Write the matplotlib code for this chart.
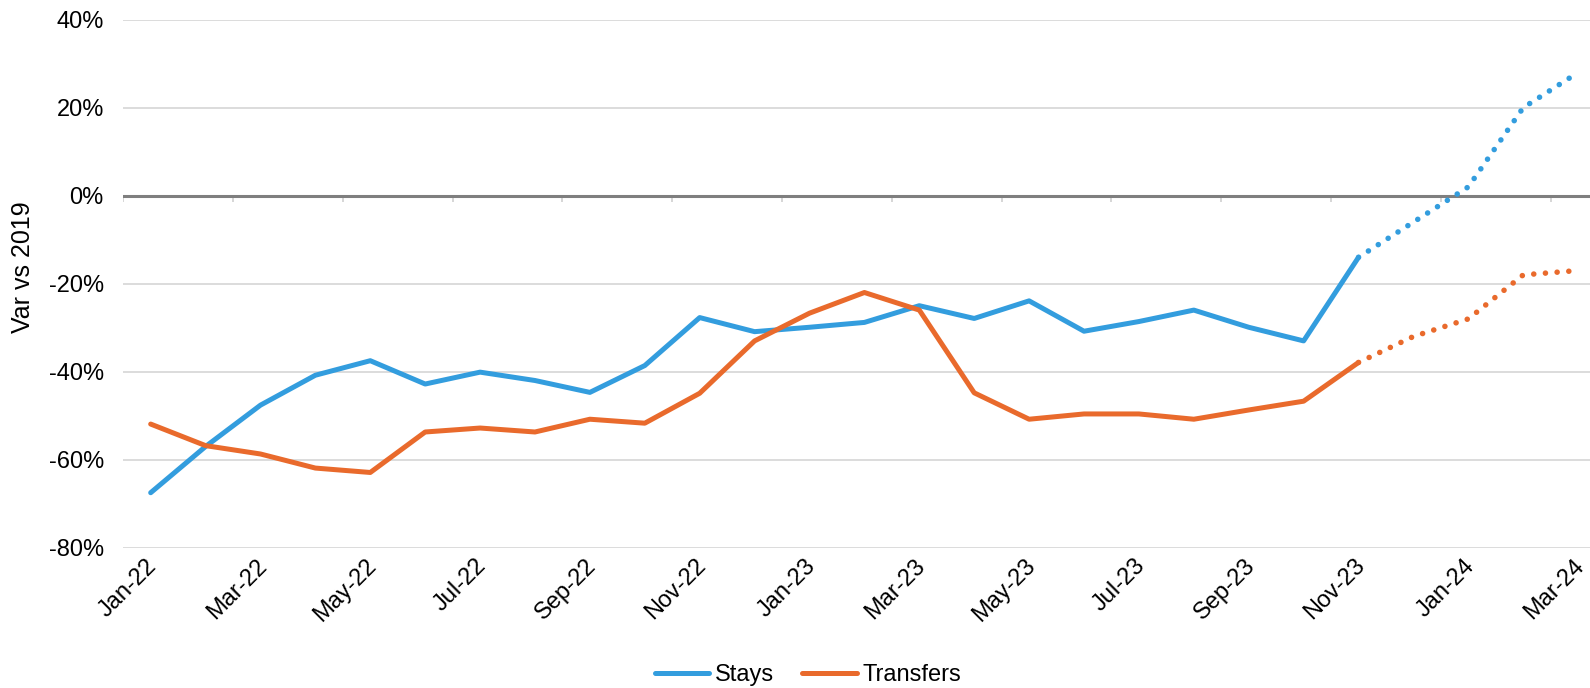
import matplotlib
matplotlib.use("Agg")
import matplotlib.pyplot as plt
import matplotlib.transforms as mtransforms
import numpy as np

# monthly variance vs 2019, in percent
months = ["Jan-22", "Feb-22", "Mar-22", "Apr-22", "May-22", "Jun-22", "Jul-22",
          "Aug-22", "Sep-22", "Oct-22", "Nov-22", "Dec-22", "Jan-23", "Feb-23",
          "Mar-23", "Apr-23", "May-23", "Jun-23", "Jul-23", "Aug-23", "Sep-23",
          "Oct-23", "Nov-23", "Dec-23", "Jan-24", "Feb-24", "Mar-24"]
stays = [-67.5, -57, -47.6, -40.8, -37.5, -42.8, -40.1, -42, -44.7, -38.6,
         -27.7, -30.9, -29.9, -28.8, -25, -27.9, -23.9, -30.8, -28.6, -26,
         -29.9, -33, -14, -6, 2, 20, 28]
transfers = [-51.9, -56.8, -58.7, -61.9, -62.9, -53.7, -52.8, -53.7, -50.8,
             -51.7, -44.9, -33, -26.7, -22, -26, -44.8, -50.8, -49.6, -49.6,
             -50.8, -48.7, -46.7, -37.9, -32, -28, -18, -17]
last_actual = "Nov-23"   # after this month the series are forecasts
y_ticks = [-80, -60, -40, -20, 0, 20, 40]

blue = "#339DDE"
orange = "#E96A2C"

plt.rcParams["font.family"] = ["Liberation Sans", "DejaVu Sans"]

fig = plt.figure(figsize=(15.9, 6.88), dpi=100)
ax = fig.add_axes([0.0775, 0.2039, 0.9323, 0.7675])

x = np.arange(len(months))
cut = months.index(last_actual)

for vals, col, name in [(stays, blue, "Stays"), (transfers, orange, "Transfers")]:
    v = np.array(vals)
    ax.plot(x[:cut + 1], v[:cut + 1], color=col, lw=3.6, label=name,
            solid_capstyle="round", solid_joinstyle="round", zorder=3)
    ax.plot(x[cut:], v[cut:], color=col, lw=4.0, linestyle=(0, (0.01, 2.1)),
            dash_capstyle="round", zorder=3)

ax.set_xlim(-0.5, len(months) - 0.5)
ax.set_ylim(-80, 40)

# grid + dark zero line
for yv in y_ticks:
    if yv != 0:
        ax.axhline(yv, color="#d9d9d9", lw=1.3, zorder=1)
ax.axhline(0, color="#7f7f7f", lw=2.2, zorder=2)
# little ticks hanging off the zero line, between every second month
ax.vlines(np.arange(-0.5, len(months), 2), -1.4, 0, color="#d0d0d0", lw=1.2, zorder=1)

for s in ax.spines.values():
    s.set_visible(False)

ax.set_yticks(y_ticks)
ax.set_yticklabels([f"{t}%" for t in y_ticks])
ax.tick_params(axis="y", length=0, pad=14, labelsize=17, labelcolor="#000000")

ax.set_xticks(x[::2])
ax.set_xticklabels(months[::2], rotation=45, ha="right", va="top",
                   rotation_mode="anchor")
ax.tick_params(axis="x", length=0, pad=5, labelsize=17)
shift = mtransforms.ScaledTranslation(-5 / 100, 0, fig.dpi_scale_trans)
for lbl in ax.get_xticklabels():
    lbl.set_transform(lbl.get_transform() + shift)

fig.text(23 / 1590, 1 - 267 / 688, "Var vs 2019", rotation=90,
         ha="center", va="center", fontsize=18)

fig.legend(loc="center", bbox_to_anchor=(808 / 1590, 1 - 675 / 688), ncol=2,
           frameon=False, fontsize=17, handlelength=2.3, handletextpad=0.25,
           columnspacing=1.2)

fig.savefig("out.png", dpi=100)
